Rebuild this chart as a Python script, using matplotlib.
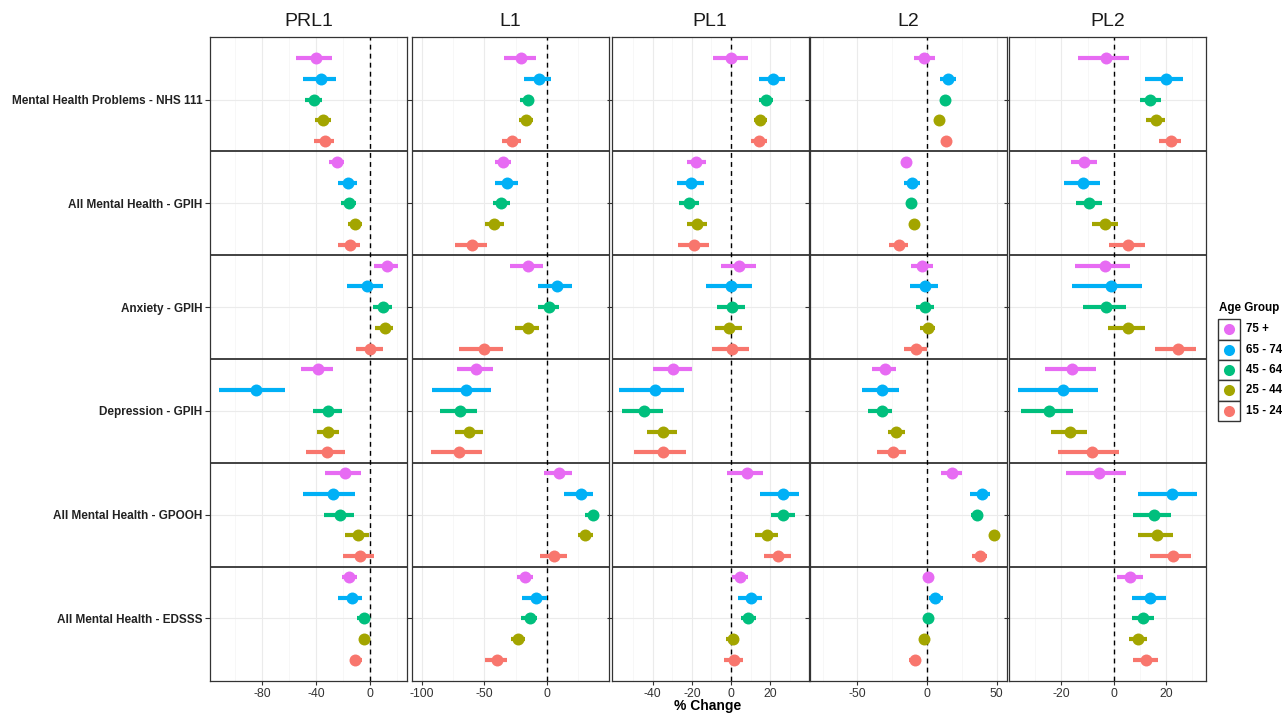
import matplotlib
matplotlib.use("Agg")
import matplotlib.pyplot as plt
from matplotlib.lines import Line2D
from matplotlib.patches import Rectangle
import numpy as np

plt.rcParams['font.family'] = ['Liberation Sans', 'DejaVu Sans']

# ---------------- data ----------------
periods = ["PRL1", "L1", "PL1", "L2", "PL2"]
outcomes = ["Mental Health Problems - NHS 111", "All Mental Health - GPIH",
            "Anxiety - GPIH", "Depression - GPIH",
            "All Mental Health - GPOOH", "All Mental Health - EDSSS"]
age_groups = ["75 +", "65 - 74", "45 - 64", "25 - 44", "15 - 24"]
age_colors = ["#E76BF3", "#00B0F6", "#00BF7D", "#A3A500", "#F8766D"]

# rows = outcomes, columns = age groups (75+, 65-74, 45-64, 25-44, 15-24)
prl1_est = [[-40.1, -36.0, -41.8, -34.7, -33.5],
            [-24.7, -16.1, -15.9, -11.0, -14.7],
            [12.5, -2.4, 9.8, 10.8, 0.2],
            [-38.2, -84.2, -30.8, -30.8, -31.6],
            [-18.3, -27.4, -22.0, -8.8, -7.6],
            [-15.2, -13.5, -4.2, -4.4, -11.0]]
prl1_lo = [[-54.8, -49.7, -48.4, -40.4, -41.1],
           [-30.3, -24.0, -21.3, -16.6, -23.7],
           [2.7, -16.9, 2.4, 3.9, -10.5],
           [-50.9, -111.8, -42.3, -39.6, -47.2],
           [-33.3, -49.4, -33.8, -18.3, -20.0],
           [-21.0, -23.5, -9.8, -7.1, -13.7]]
prl1_hi = [[-27.9, -25.0, -35.2, -28.9, -26.7],
           [-19.1, -9.3, -10.5, -5.6, -7.1],
           [20.5, 9.3, 16.6, 17.1, 9.3],
           [-27.2, -62.9, -20.8, -23.0, -18.8],
           [-6.4, -10.8, -11.7, -0.5, 2.7],
           [-9.5, -5.6, -0.5, -1.5, -5.6]]

l1_est = [[-20.3, -6.7, -15.5, -16.6, -28.1],
          [-35.3, -32.1, -36.4, -42.0, -59.6],
          [-15.0, 8.3, 1.9, -15.0, -50.5],
          [-56.4, -65.0, -69.3, -62.0, -70.0],
          [9.6, 27.3, 36.6, 30.7, 5.9],
          [-17.1, -8.8, -13.9, -22.7, -39.8]]
l1_lo = [[-34.0, -18.2, -21.1, -22.2, -35.6],
         [-41.7, -41.7, -43.3, -49.2, -73.8],
         [-29.1, -7.5, -7.5, -25.1, -70.0],
         [-71.9, -92.0, -85.6, -73.5, -92.5],
         [-2.7, 13.4, 30.5, 24.6, -5.6],
         [-24.1, -19.5, -20.3, -28.3, -49.5]]
l1_hi = [[-8.6, 3.2, -10.2, -11.0, -20.3],
         [-28.3, -23.0, -29.4, -34.2, -47.6],
         [-2.9, 19.8, 9.9, -6.1, -35.0],
         [-42.8, -44.7, -55.6, -51.3, -51.6],
         [19.8, 36.9, 41.7, 37.2, 16.0],
         [-11.0, 0.0, -7.8, -17.4, -31.8]]

pl1_est = [[0.0, 21.2, 17.6, 14.7, 14.2],
           [-17.7, -20.3, -21.3, -17.4, -18.8],
           [4.1, 0.0, 0.3, -1.0, 0.3],
           [-29.4, -38.6, -44.2, -34.6, -34.6],
           [8.2, 26.3, 26.6, 18.4, 23.9],
           [4.3, 9.9, 8.7, 0.9, 1.4]]
pl1_lo = [[-9.2, 14.2, 14.0, 11.4, 9.9],
          [-22.5, -27.6, -26.6, -22.7, -26.8],
          [-5.1, -13.0, -7.2, -8.2, -9.6],
          [-39.9, -57.0, -55.6, -42.7, -49.3],
          [-2.2, 14.8, 20.5, 12.1, 16.6],
          [0.3, 3.6, 4.8, -2.4, -3.6]]
pl1_hi = [[8.4, 27.3, 21.2, 18.3, 18.4],
          [-13.0, -13.7, -16.2, -12.5, -11.1],
          [12.5, 10.4, 7.0, 5.3, 8.9],
          [-20.1, -24.1, -34.8, -27.6, -22.9],
          [16.4, 34.8, 32.3, 24.1, 30.7],
          [8.4, 15.9, 12.5, 4.1, 6.0]]

l2_est = [[-1.9, 14.9, 12.7, 8.7, 13.9],
          [-15.4, -10.8, -11.3, -9.4, -20.4],
          [-3.6, -1.7, -1.7, 0.5, -7.7],
          [-30.0, -32.2, -32.7, -22.1, -24.5],
          [17.8, 39.2, 36.1, 48.1, 38.0],
          [0.7, 5.8, 0.7, -1.9, -8.9]]
l2_lo = [[-9.4, 8.9, 10.5, 6.5, 11.5],
         [-17.5, -16.3, -13.5, -12.0, -27.2],
         [-11.5, -12.5, -7.7, -5.3, -16.6],
         [-39.4, -47.1, -42.1, -28.4, -35.8],
         [10.3, 30.5, 31.7, 46.0, 32.5],
         [-1.2, 1.2, -1.2, -4.0, -13.2]]
l2_hi = [[5.5, 20.9, 15.0, 11.0, 16.3],
         [-13.3, -5.0, -9.2, -6.8, -13.7],
         [4.3, 7.7, 4.8, 6.0, 0.2],
         [-22.1, -20.0, -25.0, -16.1, -14.9],
         [25.2, 45.4, 40.4, 50.2, 43.3],
         [2.6, 11.3, 2.6, 0.2, -4.6]]

pl2_est = [[-2.9, 19.9, 13.9, 16.1, 21.7],
           [-11.3, -11.7, -9.4, -3.2, 5.5],
           [-3.2, -1.0, -2.9, 5.5, 24.5],
           [-15.8, -19.5, -24.6, -16.7, -8.5],
           [-5.5, 22.2, 15.2, 16.3, 22.4],
           [6.2, 13.9, 11.1, 9.2, 12.4]]
pl2_lo = [[-13.6, 11.8, 9.8, 12.4, 17.2],
          [-16.4, -19.1, -14.4, -8.4, -1.8],
          [-14.8, -15.9, -11.8, -2.2, 15.7],
          [-26.2, -36.4, -35.3, -23.9, -21.3],
          [-18.2, 9.3, 7.4, 9.2, 13.9],
          [1.3, 6.8, 6.9, 5.6, 7.4]]
pl2_hi = [[5.7, 26.4, 17.8, 19.6, 25.7],
          [-6.5, -5.4, -4.6, 1.5, 12.0],
          [6.2, 10.8, 4.6, 12.0, 31.5],
          [-6.9, -6.0, -15.5, -10.1, 1.8],
          [4.7, 31.8, 21.9, 22.5, 29.4],
          [11.0, 20.0, 15.3, 12.6, 16.8]]

prl1_ticks = [-80, -40, 0]
l1_ticks = [-100, -50, 0]
pl1_ticks = [-40, -20, 0, 20]
l2_ticks = [-50, 0, 50]
pl2_ticks = [-20, 0, 20]

# ---------------- layout / style ----------------
W, H = 1282, 713
x_limits = [(-118.4, 27.2), (-108.0, 49.2), (-60.8, 39.4), (-84.1, 57.2), (-39.9, 35.2)]
panel_left = [210, 411.7, 611.7, 810, 1009.3]
panel_w = 196.8
panel_top, panel_bot = 37.3, 680.7

ests = [prl1_est, l1_est, pl1_est, l2_est, pl2_est]
los = [prl1_lo, l1_lo, pl1_lo, l2_lo, pl2_lo]
his = [prl1_hi, l1_hi, pl1_hi, l2_hi, pl2_hi]
ticks = [prl1_ticks, l1_ticks, pl1_ticks, l2_ticks, pl2_ticks]

fig = plt.figure(figsize=(W / 100, H / 100), dpi=100)

n_out = len(outcomes)
n_age = len(age_groups)
dodge = 0.2

for c, period in enumerate(periods):
    ax = fig.add_axes([panel_left[c] / W, 1 - panel_bot / H,
                       panel_w / W, (panel_bot - panel_top) / H])
    est = np.array(ests[c]); lo = np.array(los[c]); hi = np.array(his[c])
    xl = x_limits[c]
    tk = ticks[c]
    step = tk[1] - tk[0]
    minors = [t + step / 2 for t in [tk[0] - step] + tk]
    minors = [m for m in minors if xl[0] < m < xl[1]]
    for m in minors:
        ax.axvline(m, color='#F4F4F4', lw=0.5, zorder=0)
    for t in tk:
        ax.axvline(t, color='#EBEBEB', lw=0.8, zorder=0)
    for i in range(n_out):
        ax.axhline(i, color='#EBEBEB', lw=0.8, zorder=0)
    for i in range(n_out - 1):
        ax.axhline(i + 0.5, color='#333333', lw=1.3, zorder=1)
    ax.axvline(0, color='black', lw=1.0, ls=(0, (3.5, 3)), zorder=2)
    for i in range(n_out):
        for k in range(n_age):
            y = i + (k - 2) * dodge
            ax.hlines(y, lo[i, k], hi[i, k], color=age_colors[k], lw=3.0, zorder=3)
            ax.plot(est[i, k], y, 'o', ms=8.6, color=age_colors[k], mew=0, zorder=4)
    ax.set_xlim(*xl)
    ax.set_ylim(n_out - 1 + 0.6, -0.6)
    ax.set_xticks(tk)
    ax.set_xticklabels([str(t) for t in tk])
    ax.set_yticks(range(n_out))
    if c == 0:
        ax.set_yticklabels(outcomes, fontsize=8.5, fontweight='bold', color='#222222')
    else:
        ax.set_yticklabels([])
    ax.tick_params(axis='x', labelsize=8.8, labelcolor='#333333', length=3,
                   color='#333333', pad=2)
    ax.tick_params(axis='y', length=3.5, color='#333333', pad=2)
    for s in ax.spines.values():
        s.set_color('#333333')
        s.set_linewidth(0.9)
    fig.text((panel_left[c] + panel_w / 2) / W, 1 - 22 / H, period,
             fontsize=14, ha='center', va='center', color='#1A1A1A')

fig.text((panel_left[0] + panel_left[-1] + panel_w) / 2 / W, 1 - 706 / H, "% Change",
         fontsize=10, fontweight='bold', ha='center', va='center')

# legend (manual)
fig.text(1219 / W, 1 - 308 / H, "Age Group", fontsize=8.4, fontweight='bold',
         ha='left', va='center')
box_top, box_h, box_l, box_w = 319.3, 20.3, 1218.3, 21.5
for k, (lab, col) in enumerate(zip(age_groups, age_colors)):
    yt = box_top + k * box_h
    fig.add_artist(Rectangle((box_l / W, 1 - (yt + box_h) / H), box_w / W, box_h / H,
                             transform=fig.transFigure, facecolor='white',
                             edgecolor='#333333', lw=1.0))
    fig.add_artist(Line2D([(box_l + box_w / 2) / W], [1 - (yt + box_h / 2) / H],
                          marker='o', ms=8, color=col, mew=0,
                          transform=fig.transFigure))
    fig.text(1246 / W, 1 - (yt + box_h / 2) / H, lab, fontsize=8.3,
             fontweight='bold', ha='left', va='center')

fig.savefig("out.png", dpi=100, facecolor='white')
